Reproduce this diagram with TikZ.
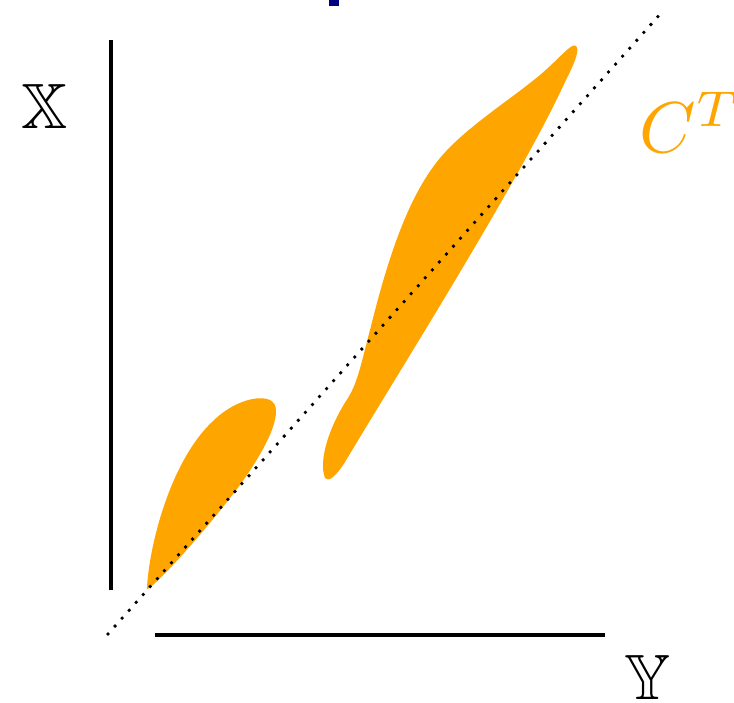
\documentclass[tikz,border=0pt]{standalone}
\usepackage{amsmath,amssymb}
\usetikzlibrary{positioning}
\definecolor{setorange}{HTML}{FFA500}
\definecolor{titleblue}{HTML}{000080}
\tikzset{
  axis/.style={
    line width=3.2pt,
    black
  },
  diagonal/.style={
    line width=3.8pt,
    line cap=round,
    dash pattern=on 0pt off 10.6pt
  },
  blob/.style={
    fill=setorange,
    draw=none
  },
  spacelabel/.style={
    scale=6.4,
    inner sep=0pt
  },
}
\begin{document}
\begin{tikzpicture}[x=1pt,y=-1pt]
  \useasboundingbox (0,0) rectangle (734,703);
  % cut-off title glyph
  \fill[titleblue] (329,0) rectangle (339,6);
  % axes
  \coordinate (xtop) at (111,40);
  \coordinate (xbot) at (111,590);
  \coordinate (yleft) at (155,635);
  \coordinate (yright) at (605,635);
  \draw[axis] (xtop) -- (xbot);
  \draw[axis] (yleft) -- (yright);
  \node[spacelabel] (xlab) at (45,106) {$\mathbb{X}$};
  \node[spacelabel] (ylab) at (648,677) {$\mathbb{Y}$};
  % the set C^T
  \fill[blob] (147,587) .. controls (150,540) and (172,460) .. (212,422)
    .. controls (238,396) and (270,393) .. (275,405)
    .. controls (280,420) and (265,450) .. (240,485)
    .. controls (210,525) and (170,570) .. (153,585)
    .. controls (148,590) and (146,590) .. (147,587) -- cycle;
  \fill[blob] (325,478) .. controls (318,460) and (330,425) .. (348,398)
    .. controls (358,382) and (362,360) .. (370,330)
    .. controls (385,270) and (405,200) .. (440,158)
    .. controls (465,128) and (510,100) .. (540,75)
    .. controls (560,58) and (572,42) .. (576,46)
    .. controls (580,50) and (575,62) .. (565,82)
    .. controls (520,180) and (400,370) .. (345,462)
    .. controls (335,478) and (328,482) .. (325,478) -- cycle;
  \node[scale=7.2,inner sep=0pt,anchor=base west,text=setorange] (clab) at (638,153) {$C^T$};
  % diagonal
  \coordinate (dlow) at (108,634);
  \coordinate (dhigh) at (662,12);
  \draw[diagonal] (dlow) -- (dhigh);
\end{tikzpicture}
\end{document}
